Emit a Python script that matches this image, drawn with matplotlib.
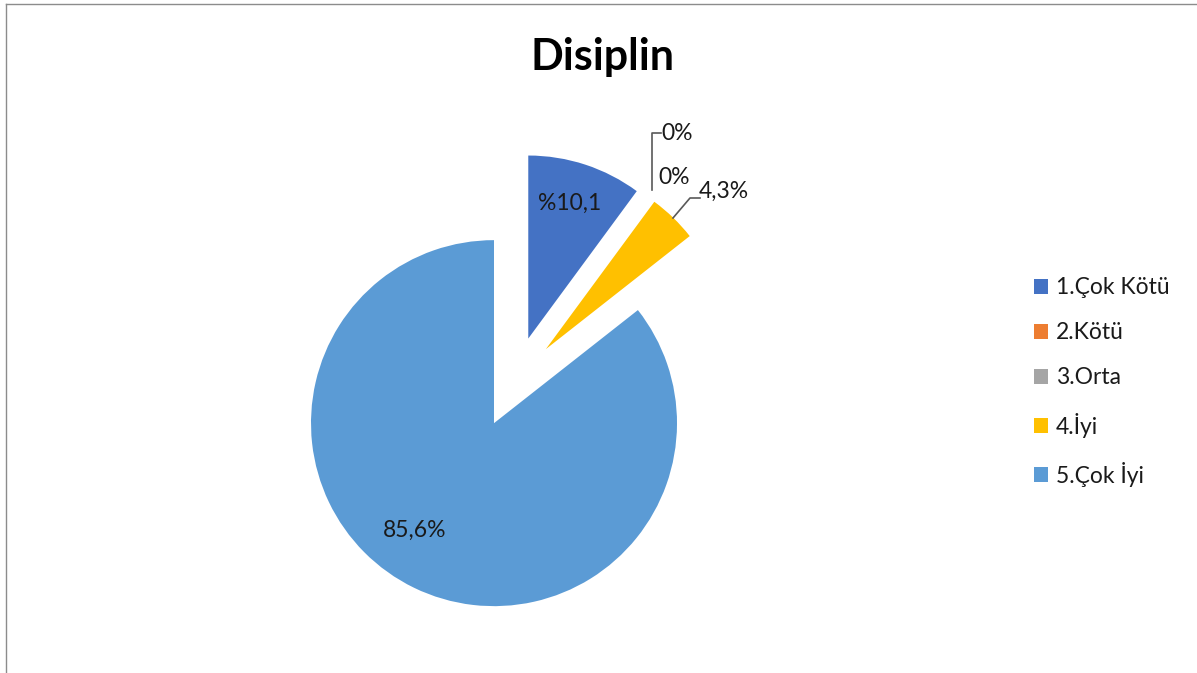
import matplotlib
matplotlib.use("Agg")
import matplotlib.pyplot as plt
from matplotlib.lines import Line2D

categories = ["1.Çok Kötü", "2.Kötü", "3.Orta", "4.İyi", "5.Çok İyi"]
values = [10.1, 0, 0, 4.3, 85.6]
value_labels = ["%10,1", "0%", "0%", "4,3%", "85,6%"]
colors = ["#4472C4", "#ED7D31", "#A5A5A5", "#FFC000", "#5B9BD5"]
explode_frac = [0.25, 0.25, 0.25, 0.25, 0.25]
title = "Disiplin"

W, H = 1197, 673
R = 183
plt.rcParams['font.family'] = ['Lato', 'DejaVu Sans']
fig = plt.figure(figsize=(W / 100, H / 100), dpi=100)
ax = fig.add_axes([0, 0, 1, 1])
ax.set_xlim(0, W)
ax.set_ylim(0, H)
ax.set_aspect('equal')
ax.axis('off')

def Y(y):
    return H - y

wedges, _ = ax.pie(values, colors=colors, explode=[f * R for f in explode_frac],
                   startangle=90, counterclock=False, center=(514, Y(382)), radius=R,
                   wedgeprops=dict(linewidth=0))
ax.set_xlim(0, W)
ax.set_ylim(0, H)

# data labels (pixel layout positions)
label_pos = [(570, 203), (677, 133), (674, 177), (724, 191), (415, 530)]
for txt, (x, y) in zip(value_labels, label_pos):
    ax.text(x, Y(y), txt, fontsize=16.5, color="#1a1a1a", ha='center', va='center')

# leader lines
lc = "#595959"
ax.plot([652, 652, 661], [Y(190), Y(133), Y(133)], color=lc, lw=1.2)
ax.plot([673, 690, 700], [Y(218), Y(198), Y(198)], color=lc, lw=1.2)

# title
fig.text(603 / W, 1 - 57 / H, title, fontsize=31, fontweight='bold',
         ha='center', va='center', color='black')

# legend
leg = ax.legend(wedges, categories, loc='center left',
                bbox_to_anchor=(1023 / W, 1 - 382 / H), bbox_transform=fig.transFigure,
                frameon=False, fontsize=16.5, handlelength=0.6, handleheight=0.6,
                handletextpad=0.35, labelspacing=1.05, borderpad=0)
for t in leg.get_texts():
    t.set_color("#1a1a1a")

# chart border fragments
fig.add_artist(Line2D([6 / W, 1], [1 - 4 / H, 1 - 4 / H], transform=fig.transFigure,
                      color="#8c8c8c", lw=1))
fig.add_artist(Line2D([6 / W, 6 / W], [0, 1 - 4 / H], transform=fig.transFigure,
                      color="#8c8c8c", lw=1))

fig.savefig("out.png", dpi=100, facecolor='white')
